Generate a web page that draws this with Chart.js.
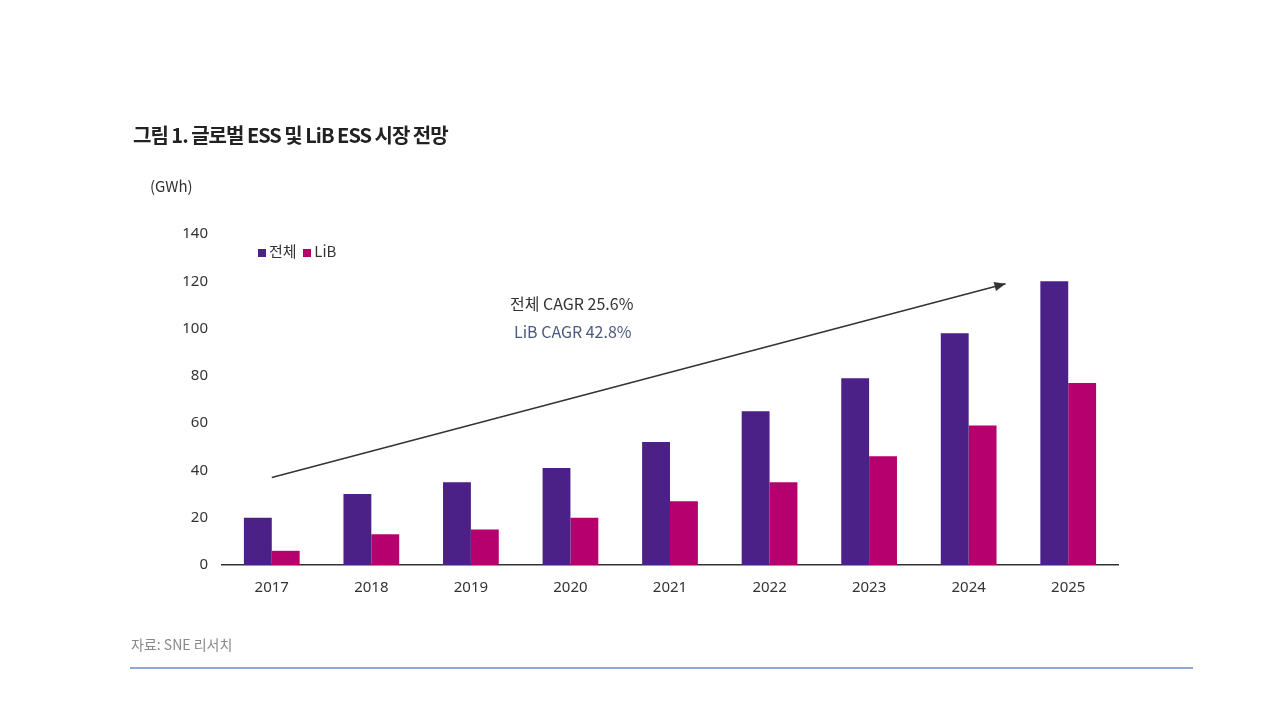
<!DOCTYPE html>
<html><head><meta charset="utf-8">
<script src="https://cdn.jsdelivr.net/npm/chart.js@4"></script>
<style>
body{margin:0;background:#fff;font-family:"Noto Sans CJK KR","Noto Sans",sans-serif;}
#wrap{position:relative;width:1283px;height:725px;}
canvas{position:absolute;left:0;top:0;}
.t{position:absolute;white-space:nowrap;}
</style></head><body>
<div id="wrap">
<canvas id="c" width="1283" height="725"></canvas>
<div class="t" style="left:133px;top:120px;font-size:20px;font-weight:bold;color:#222;letter-spacing:-1px">그림 1. 글로벌 ESS 및 LiB ESS 시장 전망</div>
<div class="t" style="left:150px;top:175px;font-size:15px;color:#333">(GWh)</div>
<div class="t" style="left:258px;top:240px;font-size:15px;color:#333"><span style="display:inline-block;width:8px;height:8px;background:#4B2188;margin-right:3px"></span>전체 &nbsp;<span style="display:inline-block;width:8px;height:8px;background:#B5006E;margin-right:3px"></span>LiB</div>
<div class="t" style="left:510px;top:291px;font-size:16px;color:#333">전체 CAGR 25.6%</div>
<div class="t" style="left:514px;top:319px;font-size:16px;color:#4a5a80">LiB CAGR 42.8%</div>
<div class="t" style="left:131px;top:634px;font-size:14px;color:#888">자료: SNE 리서치</div>
<div style="position:absolute;left:130px;top:667px;width:1063px;height:2px;background:#8FA9D8"></div>
</div>
<script>
const categories=["2017","2018","2019","2020","2021","2022","2023","2024","2025"];
const totalESS=[20,30,35,41,52,65,79,98,120];
const libESS=[6,13,15,20,27,35,46,59,77];
const arrowFrom=[0,37];
const arrowTo=[7.37,119];
const arrowPlugin={id:'arrow',afterDatasetsDraw(ch){
 const x=ch.scales.x,y=ch.scales.y,ctx=ch.ctx;
 const x1=x.getPixelForValue(arrowFrom[0]),y1=y.getPixelForValue(arrowFrom[1]);
 const x2=x.getPixelForValue(arrowTo[0]),y2=y.getPixelForValue(arrowTo[1]);
 ctx.save();ctx.strokeStyle='#333';ctx.fillStyle='#333';ctx.lineWidth=1.5;
 ctx.beginPath();ctx.moveTo(x1,y1);ctx.lineTo(x2,y2);ctx.stroke();
 const a=Math.atan2(y2-y1,x2-x1),L=12;
 ctx.beginPath();ctx.moveTo(x2,y2);
 ctx.lineTo(x2-L*Math.cos(a-0.4),y2-L*Math.sin(a-0.4));
 ctx.lineTo(x2-L*Math.cos(a+0.4),y2-L*Math.sin(a+0.4));ctx.closePath();ctx.fill();
 ctx.restore();}};
new Chart(document.getElementById('c'),{type:'bar',
data:{labels:categories,datasets:[
 {label:'전체',data:totalESS,backgroundColor:'#4B2188'},
 {label:'LiB',data:libESS,backgroundColor:'#B5006E'}]},
options:{responsive:false,animation:false,
 layout:{padding:{left:167,top:234,right:165,bottom:130}},
 plugins:{legend:{display:false},tooltip:{enabled:false}},
 datasets:{bar:{categoryPercentage:0.56,barPercentage:1}},
 scales:{
  x:{grid:{display:false,drawTicks:false},border:{color:'#333',width:1.5},
     ticks:{color:'#333',font:{size:15,family:'Noto Sans'},padding:14},
     afterFit(s){s.height=30;}},
  y:{min:0,max:140,grid:{display:false,drawTicks:false},border:{display:false},
     ticks:{stepSize:20,color:'#333',font:{size:15,family:'Noto Sans'},padding:14},
     afterFit(s){s.width=55;}}}},
plugins:[arrowPlugin]});
</script></body></html>
